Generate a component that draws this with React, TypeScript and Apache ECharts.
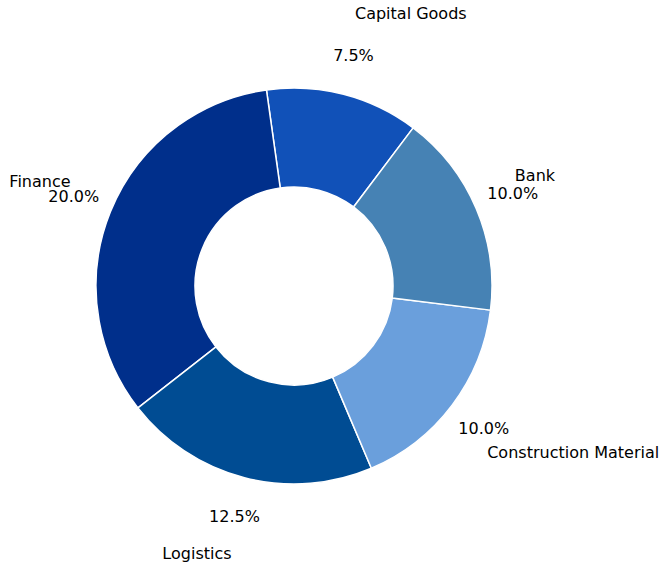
import React, { useEffect, useRef } from "react";
import * as echarts from "echarts";

const categories = ["Capital Goods", "Finance", "Logistics", "Construction Material", "Bank"];
const values = [7.5, 20.0, 12.5, 10.0, 10.0];
const colors = ["#1151b8", "#002f8b", "#004c93", "#6a9fdc", "#4682b4"];

// label placement (in units of outer radius, relative to the centre)
const nameOffsets: [number, number][] = [
  [0.59, 1.374],
  [-1.283, 0.53],
  [-0.49, -1.35],
  [1.41, -0.84],
  [1.217, 0.56],
];

const CX = 294;
const CY = 286;
const R = 198;
const START = 53;
const FONT = 16;

function midAngles(): number[] {
  const total = values.reduce((a, b) => a + b, 0);
  let acc = START;
  return values.map((v) => {
    const span = (v / total) * 360;
    const mid = acc + span / 2;
    acc += span;
    return mid;
  });
}

export default function App() {
  const ref = useRef<HTMLDivElement>(null);
  useEffect(() => {
    if (!ref.current) return;
    const chart = echarts.init(ref.current, undefined, { renderer: "svg" });
    const mids = midAngles();
    const data = categories.map((name, i) => ({
      name,
      value: values[i],
      itemStyle: { color: colors[i] },
    }));
    const common = {
      type: "pie" as const,
      center: [CX, CY],
      radius: [R / 2, R],
      startAngle: START,
      clockwise: false,
      avoidLabelOverlap: false,
      labelLine: { show: false },
    };
    chart.setOption({
      animation: false,
      backgroundColor: "#ffffff",
      series: [
        {
          ...common,
          data,
          itemStyle: { borderColor: "#ffffff", borderWidth: 1.5 },
          label: {
            show: true,
            position: "outside",
            formatter: (p: any) => `${Number(p.value).toFixed(1)}%`,
            fontFamily: "DejaVu Sans",
            fontSize: FONT,
            color: "#000000",
          },
          labelLayout: (p: any) => {
            const a = (mids[p.dataIndex] * Math.PI) / 180;
            return {
              x: CX + 1.2 * R * Math.cos(a),
              y: CY - 1.2 * R * Math.sin(a),
              align: "center",
              verticalAlign: "middle",
            };
          },
        },
        {
          ...common,
          silent: true,
          data: data.map((d) => ({ ...d, itemStyle: { color: "transparent" } })),
          itemStyle: { borderWidth: 0 },
          label: {
            show: true,
            position: "outside",
            formatter: "{b}",
            fontFamily: "DejaVu Sans",
            fontSize: FONT,
            color: "#000000",
          },
          labelLayout: (p: any) => {
            const o = nameOffsets[p.dataIndex];
            return {
              x: CX + o[0] * R,
              y: CY - o[1] * R,
              align: "center",
              verticalAlign: "middle",
            };
          },
        },
      ],
    });
    return () => chart.dispose();
  }, []);
  return (
    <div
      ref={ref}
      style={{ position: "fixed", left: 0, top: 0, width: 661, height: 567 }}
    />
  );
}
